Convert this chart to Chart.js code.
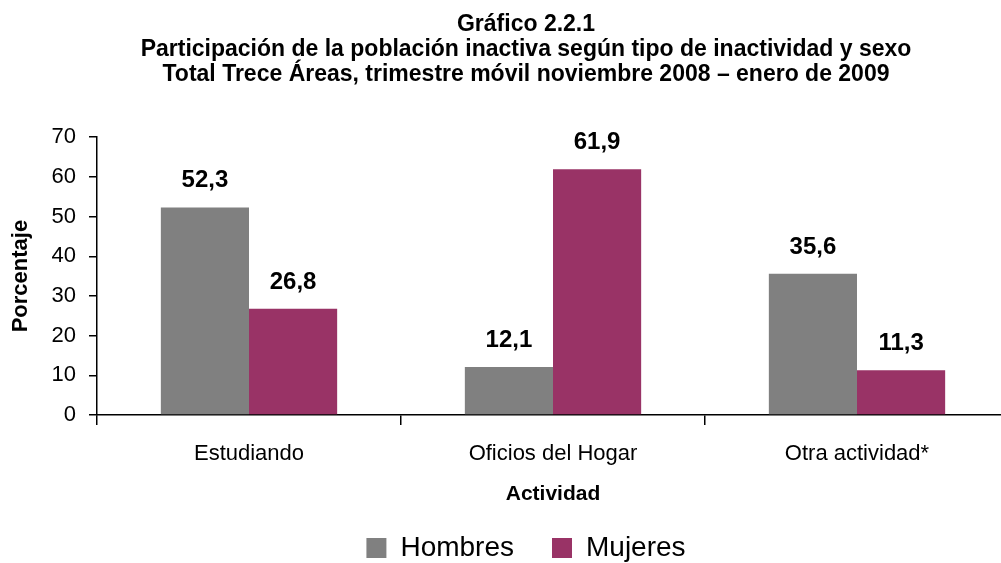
<!DOCTYPE html>
<html>
<head>
<meta charset="utf-8">
<script src="https://cdn.jsdelivr.net/npm/chart.js@4"></script>
<style>
  html, body { margin: 0; padding: 0; background: #fff; }
  #wrap { width: 1001px; height: 563px; overflow: hidden; }
</style>
</head>
<body>
<div id="wrap"><canvas id="chart" width="1009" height="572"></canvas></div>
<script>
const categories = ["Estudiando", "Oficios del Hogar", "Otra actividad*"];
const hombres = [52.3, 12.1, 35.6];
const mujeres = [26.8, 61.9, 11.3];
const yTicks = [0, 10, 20, 30, 40, 50, 60, 70];
const titleLines = [
  "Gráfico 2.2.1",
  "Participación de la población inactiva según tipo de inactividad y sexo",
  "Total Trece Áreas, trimestre móvil noviembre 2008 – enero de 2009"
];

const FONT = "'Liberation Sans', Arial, sans-serif";

// value labels above each bar
const barLabels = {
  id: "barLabels",
  afterDatasetsDraw(chart) {
    const ctx = chart.ctx;
    ctx.save();
    ctx.font = "bold 24px " + FONT;
    ctx.fillStyle = "#000";
    ctx.textAlign = "center";
    ctx.textBaseline = "alphabetic";
    chart.data.datasets.forEach((ds, i) => {
      chart.getDatasetMeta(i).data.forEach((bar, j) => {
        ctx.fillText(ds.data[j].toFixed(1).replace(".", ","), bar.x, bar.y - 20);
      });
    });
    ctx.restore();
  }
};

new Chart(document.getElementById("chart"), {
  type: "bar",
  data: {
    labels: categories,
    datasets: [
      { label: "Hombres", data: hombres, backgroundColor: "#808080" },
      { label: "Mujeres", data: mujeres, backgroundColor: "#993366" }
    ]
  },
  options: {
    responsive: false,
    animation: false,
    categoryPercentage: 0.58,
    barPercentage: 1,
    // left padding shifts the centre of title and legend to the right,
    // the y axis labels are drawn into that padding
    layout: { padding: { left: 43, right: 0, top: 0, bottom: 0 } },
    plugins: {
      title: {
        display: true,
        text: titleLines,
        color: "#000",
        font: { family: FONT, size: 23, weight: "bold", lineHeight: 1.09 },
        padding: { top: 12, bottom: 50 }
      },
      legend: {
        position: "bottom",
        labels: {
          color: "#000",
          font: { family: FONT, size: 28 },
          boxWidth: 20,
          boxHeight: 20,
          padding: 38
        }
      },
      tooltip: { enabled: false }
    },
    scales: {
      x: {
        afterFit(axis) { axis.height = 81; },
        grid: { display: true, drawOnChartArea: false, offset: true, color: "#000", tickLength: 10, lineWidth: 1.5 },
        border: { display: true, color: "#000", width: 1.5 },
        ticks: { color: "#000", font: { family: FONT, size: 22 }, padding: 16 },
        title: { display: true, text: "Actividad", color: "#000", font: { family: FONT, size: 21, weight: "bold" }, padding: { top: 0, bottom: -10.6 } }
      },
      y: {
        min: 0,
        max: 70,
        afterBuildTicks(axis) { axis.ticks = yTicks.map(v => ({ value: v })); },
        afterFit(axis) { axis.width = 54; },
        grid: { display: true, drawOnChartArea: false, color: "#000", tickLength: 8, lineWidth: 1.5 },
        border: { display: true, color: "#000", width: 1.5 },
        ticks: { color: "#000", font: { family: FONT, size: 22 }, padding: 13 },
        title: { display: true, text: "Porcentaje", color: "#000", font: { family: FONT, size: 22, weight: "bold" }, padding: { top: -35, bottom: 0 } }
      }
    }
  },
  plugins: [barLabels]
});
</script>
</body>
</html>
